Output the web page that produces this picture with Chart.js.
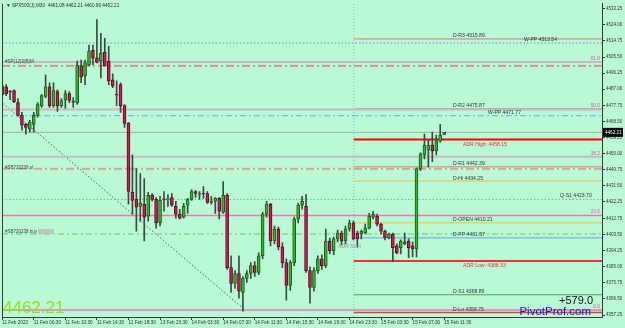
<!DOCTYPE html>
<html>
<head>
<meta charset="utf-8">
<script src="https://cdn.jsdelivr.net/npm/chart.js@4.4.1/dist/chart.umd.min.js"></script>
<style>
html, body { margin: 0; padding: 0; background: #baf9d6; overflow: hidden; }
canvas { display: block; }
</style>
</head>
<body>
<canvas id="chart" width="625" height="328"></canvas>
<script>
// M30 candles (index 0 = 11 Feb 2022 02:30)
const opens = [4483.9, 4488.4, 4485.6, 4486.2, 4479.3, 4472.0, 4466.8, 4464.0, 4466.8, 4472.0,
  4477.6, 4482.8, 4488.4, 4477.6, 4485.6, 4477.6, 4481.0, 4484.5, 4479.9, 4479.3,
  4500.4, 4494.7, 4500.9, 4509.4, 4504.9, 4503.2, 4508.3, 4503.2, 4492.4, 4483.9,
  4489.6, 4477.6, 4467.4, 4427.7, 4423.7, 4419.7, 4420.9, 4414.0, 4426.0, 4423.7,
  4410.1, 4423.7, 4423.4, 4424.8, 4419.7, 4415.2, 4413.5, 4420.3, 4423.7, 4428.2,
  4426.5, 4427.1, 4427.1, 4422.0, 4422.6, 4424.3, 4416.3, 4426.0, 4384.5, 4375.4,
  4381.1, 4370.3, 4378.3, 4381.1, 4385.6, 4381.7, 4391.3, 4415.2, 4420.9, 4399.8,
  4406.7, 4396.4, 4387.4, 4374.3, 4387.4, 4412.4, 4420.3, 4419.7, 4382.8, 4373.1,
  4382.8, 4389.6, 4385.6, 4399.8, 4394.2, 4401.0, 4404.4, 4399.8, 4406.7, 4410.2,
  4404.4, 4403.8, 4404.4, 4407.2, 4413.5, 4414.0, 4409.5, 4405.5, 4401.5, 4403.8,
  4397.0, 4395.9, 4398.1, 4399.8, 4397.0, 4395.3, 4441.3, 4449.3, 4452.1, 4454.9,
  4451.5, 4457.2, 4461.08];
const highs = [4490.7, 4489.6, 4486.2, 4486.7, 4481.6, 4473.7, 4467.4, 4469.1, 4473.7, 4479.3,
  4483.9, 4495.2, 4490.7, 4490.7, 4486.7, 4481.6, 4486.2, 4485.6, 4482.2, 4503.2,
  4503.8, 4503.8, 4512.3, 4512.3, 4527.0, 4519.1, 4516.3, 4511.7, 4495.8, 4491.8,
  4490.7, 4478.2, 4468.0, 4449.3, 4441.3, 4438.5, 4435.6, 4427.7, 4427.1, 4424.8,
  4425.4, 4428.2, 4426.5, 4427.1, 4422.6, 4418.0, 4421.4, 4424.3, 4429.3, 4428.8,
  4428.2, 4431.0, 4428.2, 4425.4, 4424.8, 4424.8, 4433.9, 4427.1, 4391.3, 4382.8,
  4391.3, 4379.4, 4382.8, 4387.4, 4387.9, 4393.0, 4416.3, 4422.6, 4421.4, 4408.4,
  4407.8, 4398.7, 4389.6, 4388.5, 4413.5, 4421.4, 4425.4, 4426.5, 4385.0, 4384.5,
  4391.3, 4391.9, 4406.7, 4401.5, 4402.1, 4406.1, 4405.5, 4408.4, 4411.8, 4411.2,
  4405.5, 4406.1, 4409.5, 4415.7, 4416.9, 4415.2, 4410.1, 4406.1, 4404.4, 4404.4,
  4398.1, 4400.4, 4404.4, 4401.0, 4399.3, 4441.8, 4450.4, 4461.2, 4457.7, 4462.3,
  4460.6, 4466.8, 4462.21];
const lows = [4482.2, 4483.3, 4481.0, 4479.3, 4471.5, 4463.4, 4461.2, 4462.3, 4462.3, 4470.9,
  4476.5, 4482.2, 4476.5, 4476.5, 4474.2, 4476.5, 4476.0, 4479.3, 4476.5, 4478.2,
  4490.7, 4489.6, 4500.4, 4500.9, 4502.1, 4493.5, 4500.4, 4489.6, 4487.9, 4477.6,
  4473.7, 4465.1, 4420.9, 4415.2, 4405.5, 4411.2, 4399.8, 4411.2, 4422.6, 4407.2,
  4408.4, 4416.9, 4419.7, 4419.7, 4412.9, 4412.4, 4412.9, 4415.7, 4423.1, 4424.8,
  4423.7, 4424.3, 4421.4, 4420.9, 4415.7, 4412.4, 4415.7, 4383.4, 4370.3, 4372.6,
  4366.9, 4359.5, 4376.0, 4378.3, 4379.4, 4380.5, 4389.6, 4413.5, 4397.0, 4398.1,
  4394.7, 4384.5, 4365.8, 4371.4, 4385.6, 4410.1, 4418.0, 4381.7, 4364.1, 4370.9,
  4381.1, 4383.4, 4384.5, 4392.4, 4391.9, 4399.3, 4397.6, 4398.1, 4405.5, 4400.4,
  4396.4, 4401.0, 4403.8, 4406.7, 4412.4, 4408.4, 4403.8, 4400.4, 4401.0, 4387.9,
  4392.4, 4392.4, 4397.6, 4390.2, 4390.7, 4390.7, 4440.2, 4447.0, 4442.4, 4445.3,
  4449.3, 4456.6, 4460.96];
const closes = [4489.0, 4484.5, 4485.4, 4479.9, 4472.0, 4466.3, 4465.1, 4468.0, 4472.0, 4478.2,
  4483.3, 4488.4, 4477.6, 4486.2, 4477.6, 4480.5, 4484.5, 4480.5, 4479.6, 4500.9,
  4494.1, 4502.1, 4508.9, 4504.9, 4502.6, 4507.7, 4500.4, 4491.8, 4489.0, 4483.6,
  4477.6, 4467.4, 4428.2, 4423.1, 4419.2, 4421.4, 4413.5, 4426.0, 4423.7, 4410.1,
  4423.1, 4423.4, 4423.7, 4420.3, 4415.2, 4412.9, 4419.7, 4423.7, 4428.2, 4427.1,
  4426.8, 4426.8, 4422.0, 4422.3, 4424.3, 4416.9, 4426.0, 4384.5, 4375.4, 4381.1,
  4370.9, 4378.3, 4381.1, 4385.6, 4381.7, 4391.3, 4415.2, 4420.9, 4399.8, 4406.7,
  4396.4, 4387.4, 4374.3, 4387.4, 4412.4, 4420.3, 4422.6, 4382.8, 4373.1, 4382.8,
  4389.6, 4385.6, 4399.8, 4394.2, 4401.0, 4404.4, 4399.8, 4406.7, 4410.1, 4401.0,
  4401.0, 4405.5, 4407.2, 4414.0, 4415.2, 4409.5, 4405.5, 4401.5, 4403.8, 4395.9,
  4393.0, 4399.8, 4399.3, 4395.9, 4395.3, 4441.3, 4449.8, 4454.9, 4454.9, 4451.5,
  4457.2, 4460.6, 4462.21];

// time axis labels, one every 8 bars
const xTickLabels = ['11 Feb 2022', '11 Feb 06:30', '11 Feb 10:30', '11 Feb 14:30', '11 Feb 18:30',
  '13 Feb 23:30', '14 Feb 03:30', '14 Feb 07:30', '14 Feb 11:30', '14 Feb 15:30',
  '14 Feb 19:30', '14 Feb 23:30', '15 Feb 03:30', '15 Feb 07:30', '15 Feb 11:30'];
const xTickBars = [0, 8, 16, 24, 32, 40, 48, 56, 64, 72, 80, 88, 96, 104, 112];
const yTicks = [4533.25, 4524.00, 4514.75, 4505.50, 4496.25, 4487.00, 4477.75, 4468.50,
  4459.25, 4450.00, 4440.75, 4431.50, 4422.25, 4412.75, 4403.50, 4394.25, 4385.00,
  4375.75, 4366.50, 4357.25];

// pivot levels of the current day
const dayLevelNames = ['D-R3', 'D-R2', 'ADR High:', 'D-R1', 'D-Hi', 'D-OPEN', 'D-PP', 'ADR Low:', 'D-S1', 'D-Lo'];
const dayLevelValues = [4515.89, 4475.87, 4458.15, 4442.39, 4434.25, 4410.21, 4401.57, 4388.33, 4368.89, 4358.75];
const weekLevelNames = ['W-PP', 'W-PP', 'Q-S1'];
const weekLevelValues = [4513.54, 4471.77, 4423.70];
const fibNames = ['0.0', '23.6', '38.2', '50.0', '61.8'];
const fibValues = [4360.1, 4414.5, 4448.2, 4475.4, 4502.6];
const orderNames = ['#SP(12)3(B)M', '#SB720238 sl', '#SB720238 buy'];
const orderValues = [4500.4, 4441.3, 4403.8];
const trendBars = [0.2, 61.5];
const trendValues = [4478.8, 4360.1];
const dayStartBar = 89.1;
const lastPrice = 4462.21;
const profitText = '+579.0';

const X_MIN = -0.05, X_MAX = 152, Y_MIN = 4356.11, Y_MAX = 4536.14;
const FONT = '"Liberation Sans", Arial, sans-serif';
Chart.defaults.font.family = FONT;

const bull = '#2eb82e', bullEdge = '#1c5c1c', bear = '#d8145a', bearEdge = '#5c0c22';
const isUp = i => closes[i] >= opens[i];

function hline(x0, x1, v, color, width, dash) {
    return {
        type: 'line', data: [{x: x0, y: v}, {x: x1, y: v}],
        borderColor: color, borderWidth: width, borderDash: dash || [],
        pointRadius: 0, order: 3
    };
}

const dayStyles = [['#d47a7a', 1], ['#b99a9a', 1], ['#ff0000', 2], ['#e07a7a', 1], ['#e6c45a', 1],
  ['#e8c43a', 1], ['#6d9de8', 1], ['#e83434', 2], ['#4ea34e', 1], ['#e84040', 1.5]];
const fibStyles = [['#ea76b6', 1.5], ['#ea76b6', 1.5], ['#c9b8c2', 2], ['#c9b8c2', 2], ['#c9b8c2', 2]];

const datasets = [
    {
        type: 'bar', label: 'body', order: 0, grouped: false, barThickness: 3, minBarLength: 1,
        data: opens.map((o, i) => ({x: i, y: [Math.min(o, closes[i]), Math.max(o, closes[i])]})),
        backgroundColor: c => isUp(c.dataIndex) ? bull : bear,
        borderColor: c => isUp(c.dataIndex) ? bullEdge : bearEdge,
        borderWidth: 1, borderSkipped: false
    },
    {
        type: 'bar', label: 'wick', order: 1, grouped: false, barThickness: 1,
        data: lows.map((l, i) => ({x: i, y: [l, highs[i]]})),
        backgroundColor: '#3b4b3f', borderWidth: 0
    }
];
fibValues.forEach((v, i) => datasets.push(hline(X_MIN, X_MAX, v, fibStyles[i][0], fibStyles[i][1])));
datasets.push(hline(X_MIN, X_MAX, orderValues[0], '#e06a5a', 1.2, [8, 3, 2, 3]));
datasets.push(hline(X_MIN, X_MAX, orderValues[1], '#d9a391', 2, [8, 3, 2, 3]));
datasets.push(hline(X_MIN, X_MAX, orderValues[2], '#66cc66', 1, [6, 3, 2, 3]));
datasets.push(hline(X_MIN, X_MAX, weekLevelValues[0], '#5a9ad8', 1, [1.5, 2]));
datasets.push(hline(X_MIN, X_MAX, weekLevelValues[1], '#6aa0f0', 1, [6, 3, 2, 3]));
datasets.push(hline(X_MIN, X_MAX, weekLevelValues[2], '#6cbf6c', 1, [1.5, 2]));
datasets.push(hline(X_MIN, X_MAX, lastPrice, '#9fb0a8', 1));
dayLevelValues.forEach((v, i) => datasets.push(hline(dayStartBar, X_MAX, v, dayStyles[i][0], dayStyles[i][1])));
datasets.push({
    type: 'line', data: [{x: dayStartBar, y: Y_MIN}, {x: dayStartBar, y: Y_MAX}],
    borderColor: '#a4b4ac', borderWidth: 1, borderDash: [1, 2], pointRadius: 0, order: 4
});
datasets.push({
    type: 'line', data: trendBars.map((b, i) => ({x: b, y: trendValues[i]})),
    borderColor: '#56665a', borderWidth: 1, borderDash: [1.5, 2], pointRadius: 0, order: 4
});

const overlay = {
    id: 'overlay',
    beforeDraw(chart) {
        const ctx = chart.ctx;
        ctx.save();
        ctx.fillStyle = '#baf9d6';
        ctx.fillRect(0, 0, chart.width, chart.height);
        ctx.restore();
    },
    afterDraw(chart) {
        const ctx = chart.ctx, ys = chart.scales.y, a = chart.chartArea;
        const text = (t, x, v, dy, color, size, align) => {
            ctx.font = size + 'px ' + FONT;
            ctx.fillStyle = color;
            ctx.textAlign = align || 'left';
            ctx.textBaseline = 'alphabetic';
            ctx.fillText(t, x, (v === null ? 0 : ys.getPixelForValue(v)) + dy);
        };
        ctx.save();
        // left frame
        ctx.strokeStyle = '#3a3a3a';
        ctx.lineWidth = 1;
        ctx.beginPath();
        ctx.moveTo(a.left + 0.5, a.top);
        ctx.lineTo(a.left + 0.5, a.bottom);
        ctx.stroke();

        text('\u25BC SPX500(J),M30  ' + [opens[112], highs[112], lows[112], closes[112]].map(v => v.toFixed(2)).join(' '),
            6, null, 7, '#2a2a2a', 4.7);

        dayLevelNames.forEach((n, i) => {
            const adr = n.startsWith('ADR');
            text(n + ' ' + dayLevelValues[i].toFixed(2), adr ? 463 : 453, dayLevelValues[i],
                adr ? 6.5 : -1.5, adr ? '#ee3030' : '#333333', 5.1);
        });
        text(weekLevelNames[0] + ' ' + weekLevelValues[0].toFixed(2), 524, weekLevelValues[0], -2, '#333333', 5.1);
        text(weekLevelNames[1] + ' ' + weekLevelValues[1].toFixed(2), 488, weekLevelValues[1], -2, '#333333', 5.1);
        text(weekLevelNames[2] + ' ' + weekLevelValues[2].toFixed(2), 560, weekLevelValues[2], -2, '#333333', 5.1);
        fibNames.forEach((n, i) => text(n, 600, fibValues[i], -2, '#e05a9c', 4.8, 'right'));
        text(orderNames[0], 5, orderValues[0], -2.5, '#444444', 4.5);
        text(orderNames[1], 5, orderValues[1], 0, '#444444', 4.5);
        text(orderNames[2], 5, orderValues[2], -1, '#444444', 4.5);
        ctx.fillStyle = '#c4c4c4';
        ctx.fillRect(38, ys.getPixelForValue(orderValues[2]) - 5, 16, 5);
        text('ADR Start', 338, orderValues[2], 13.5, '#8a9aa8', 5.1);

        text(lastPrice.toFixed(2), 3, null, 313, '#98de1e', 17);
        text(profitText, 593, null, 303.5, '#111111', 11, 'right');
        text('PivotProf.com', 591, null, 315, '#1c1cb0', 11.5, 'right');

        // last price box on the price axis
        const py = ys.getPixelForValue(lastPrice);
        ctx.fillStyle = '#000000';
        ctx.fillRect(a.right + 1, py - 4.5, 20, 9);
        text(lastPrice.toFixed(2), a.right + 3, lastPrice, 1.7, '#ffffff', 4.6);
        ctx.restore();
    }
};

new Chart(document.getElementById('chart'), {
    type: 'bar',
    data: {datasets},
    options: {
        responsive: false,
        animation: false,
        devicePixelRatio: 1,
        layout: {padding: {left: 2, top: 0, right: 0, bottom: 0}},
        plugins: {legend: {display: false}, tooltip: {enabled: false}},
        scales: {
            x: {
                type: 'linear', min: X_MIN, max: X_MAX, offset: false,
                afterFit: s => { s.height = 11; },
                afterBuildTicks: s => { s.ticks = xTickBars.map(v => ({value: v})); },
                grid: {display: true, drawOnChartArea: false, offset: false, tickLength: 3, color: '#3a3a3a'},
                border: {display: true, color: '#3a3a3a'},
                ticks: {
                    autoSkip: false, maxRotation: 0, align: 'start', padding: 0,
                    color: '#333333', font: {size: 4.7},
                    callback: (v, i) => xTickLabels[i]
                }
            },
            y: {
                type: 'linear', position: 'right', min: Y_MIN, max: Y_MAX, beginAtZero: false,
                afterFit: s => { s.width = 23; },
                afterBuildTicks: s => { s.ticks = yTicks.map(v => ({value: v})); },
                grid: {display: true, drawOnChartArea: false, tickLength: 3, color: '#3a3a3a'},
                border: {display: true, color: '#3a3a3a'},
                ticks: {padding: 1, color: '#333333', font: {size: 4.5}, callback: v => v.toFixed(2)}
            }
        }
    },
    plugins: [overlay]
});
</script>
</body>
</html>
